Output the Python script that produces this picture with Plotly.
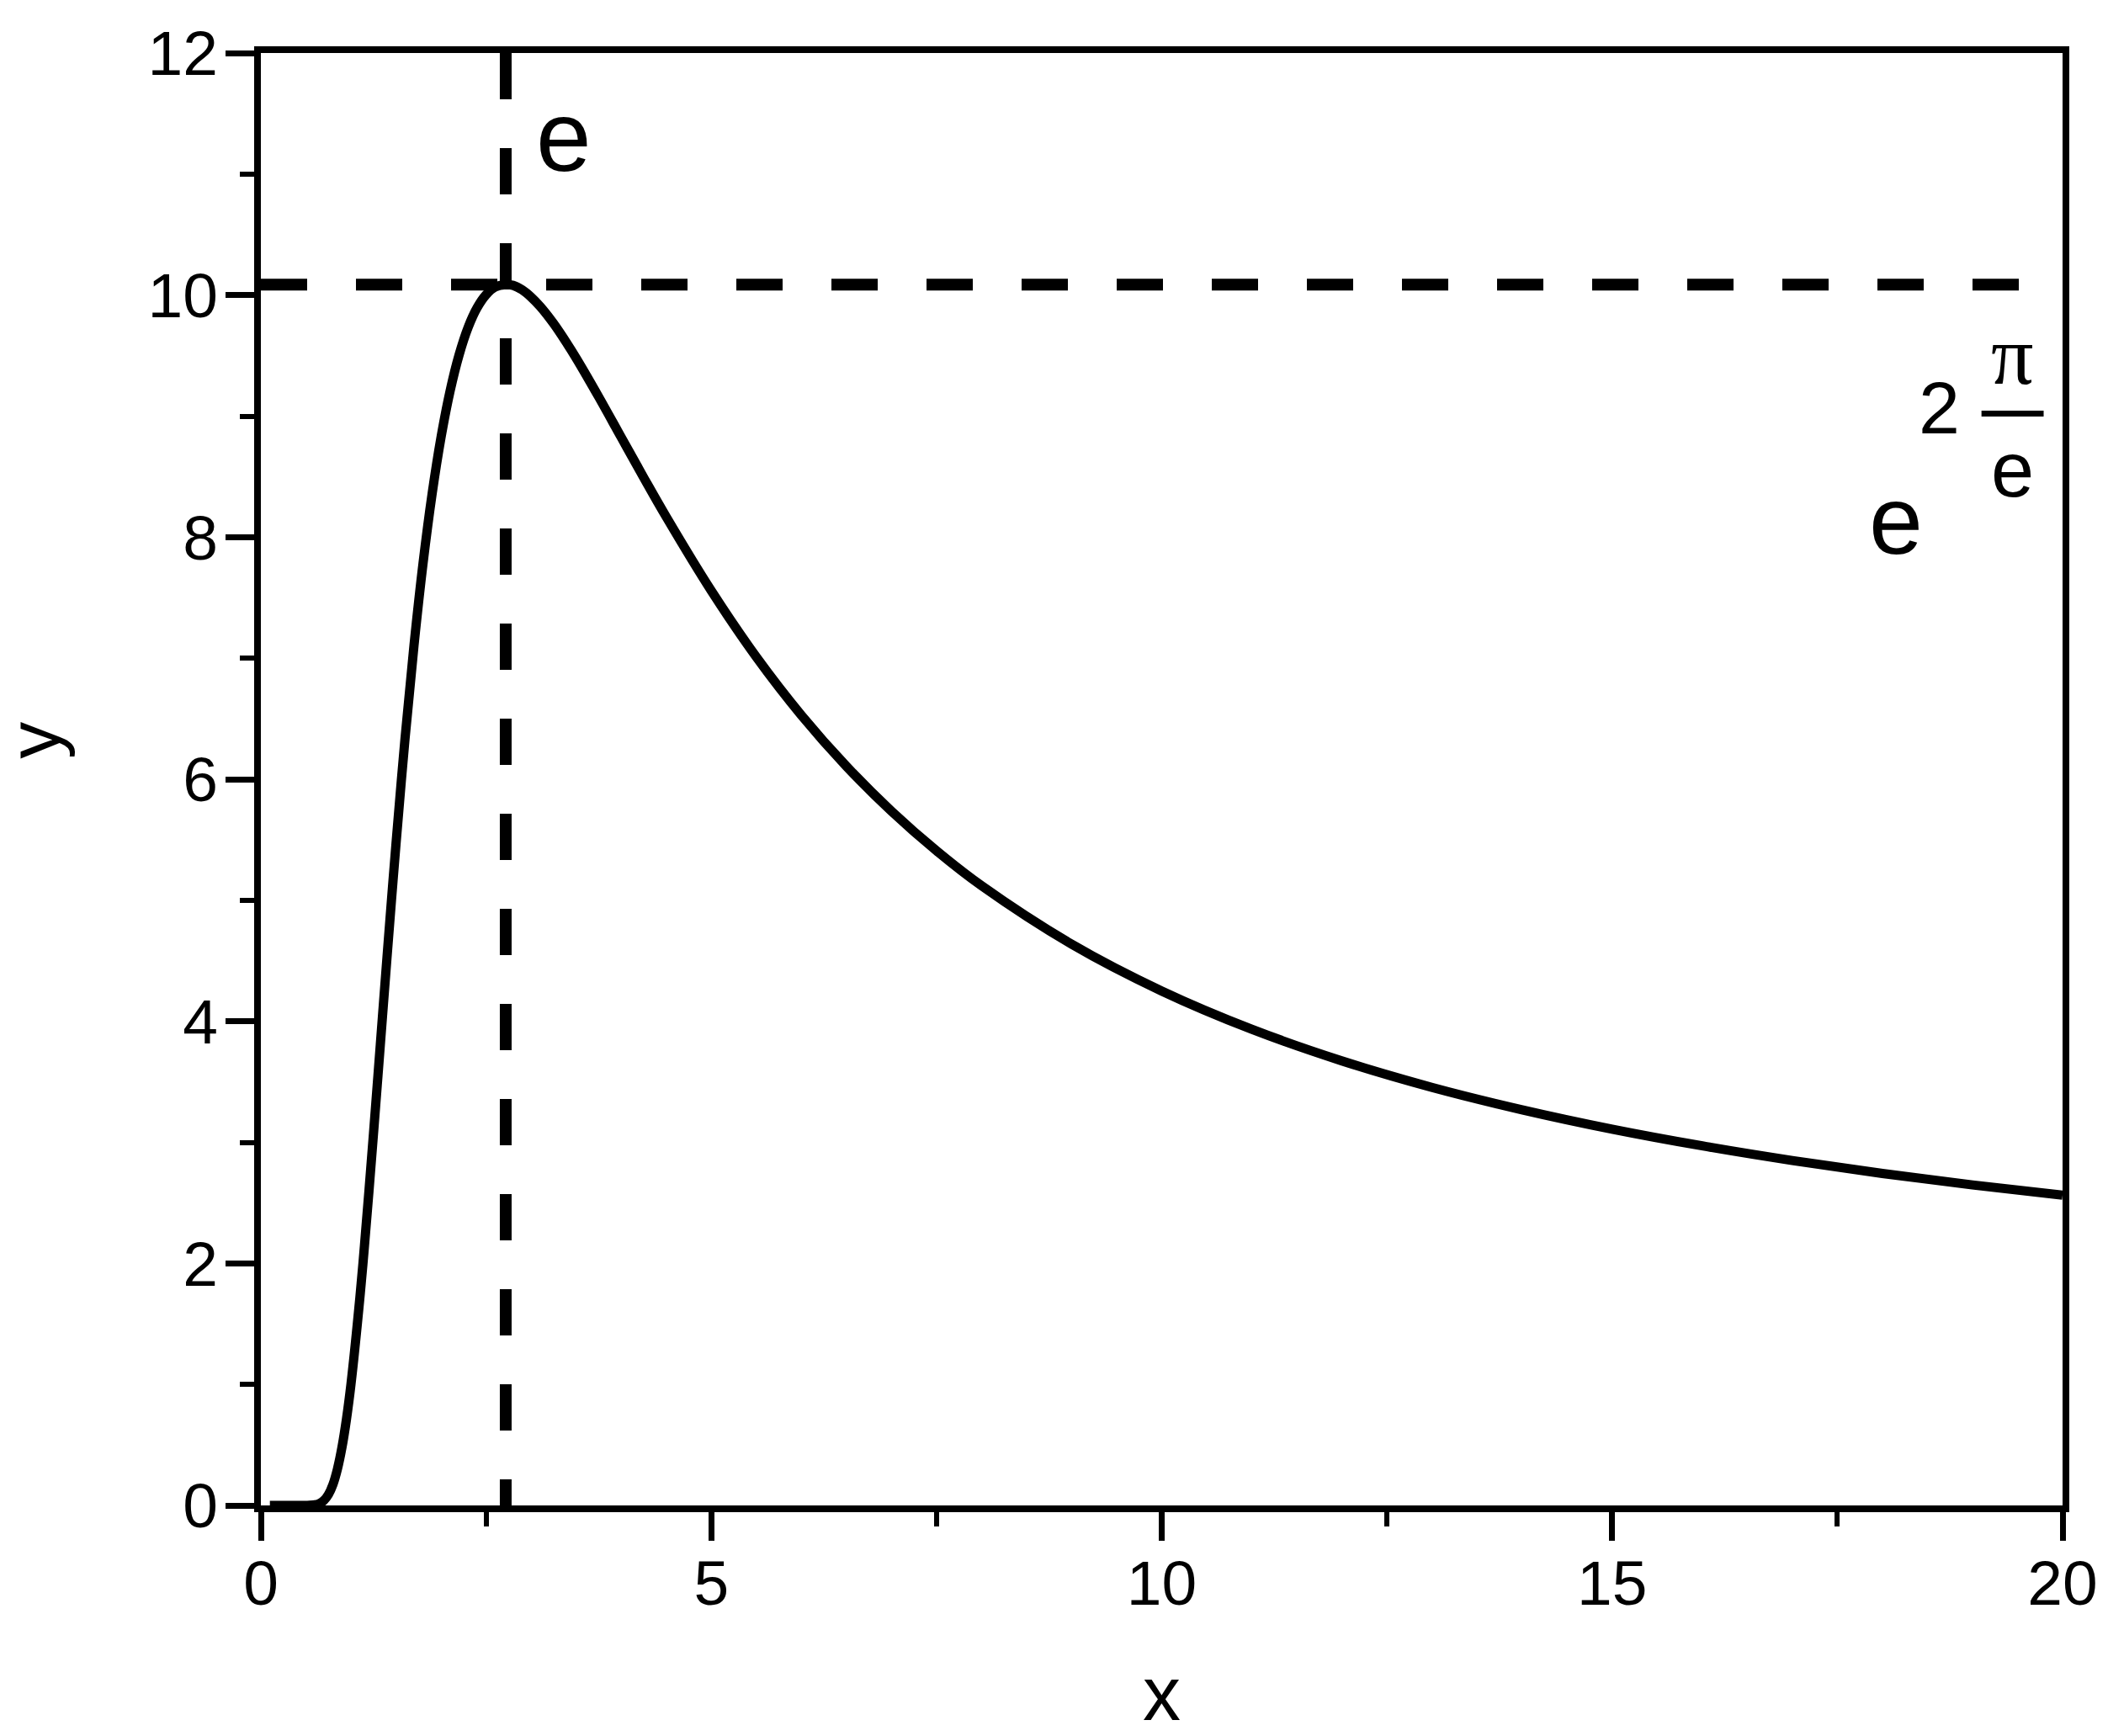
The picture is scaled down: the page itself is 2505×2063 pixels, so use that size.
import plotly.graph_objects as go

# curve values
x_vals = [0.1, 0.2, 0.4, 0.5, 0.6, 0.65, 0.7, 0.75, 0.8, 0.85, 0.9, 0.95, 1.0,
          1.1, 1.15, 1.2, 1.25, 1.3, 1.35, 1.4, 1.45, 1.5, 1.6, 1.7, 1.8, 1.9,
          2.0, 2.1, 2.2, 2.3, 2.4, 2.5, 2.6, 2.718, 2.8, 2.9, 3.0, 3.1, 3.25,
          3.4, 3.5, 3.75, 4.0, 4.25, 4.5, 5.0, 5.5, 6.0, 6.5, 7.0, 7.5, 8.0,
          9.0, 10.0, 11.0, 12.0, 13.0, 14.0, 15.0, 16.0, 17.0, 18.0, 19.0, 20.0]
y_vals = [0.0, 0.0, 0.0, 0.0002, 0.005, 0.016, 0.041, 0.090, 0.173, 0.301,
          0.479, 0.712, 1.0, 1.724, 2.146, 2.598, 3.070, 3.554, 4.042, 4.527,
          5.003, 5.465, 6.333, 7.107, 7.782, 8.353, 8.825, 9.206, 9.505, 9.732,
          9.895, 10.003, 10.066, 10.086, 10.080, 10.043, 9.983, 9.906, 9.764,
          9.598, 9.479, 9.159, 8.825, 8.492, 8.167, 7.557, 7.010, 6.529, 6.107,
          5.736, 5.409, 5.120, 4.637, 4.250, 3.934, 3.673, 3.454, 3.269, 3.109,
          2.971, 2.850, 2.743, 2.648, 2.563]

peak_x = 2.718
peak_y = 10.086

x_ticks = [0, 5, 10, 15, 20]
y_ticks = [0, 2, 4, 6, 8, 10, 12]

FONT = "Arial, Liberation Sans, sans-serif"
DASH = "55px,58px"

fig = go.Figure()

fig.add_trace(go.Scatter(x=x_vals, y=y_vals, mode='lines',
                         line=dict(color='black', width=11, shape='spline'),
                         showlegend=False, hoverinfo='skip'))

# reference lines at the maximum
fig.add_trace(go.Scatter(x=[0, 20], y=[peak_y, peak_y], mode='lines',
                         line=dict(color='black', width=14, dash=DASH),
                         showlegend=False, hoverinfo='skip'))
fig.add_trace(go.Scatter(x=[peak_x, peak_x], y=[12, 0], mode='lines',
                         line=dict(color='black', width=14, dash=DASH),
                         showlegend=False, hoverinfo='skip'))

# labels
fig.add_annotation(x=3.36, y=11.31, text="e", showarrow=False,
                   font=dict(family=FONT, size=118, color='black'))
fig.add_annotation(x=18.15, y=8.14, text="e", showarrow=False,
                   font=dict(family=FONT, size=115, color='black'))
fig.add_annotation(x=18.63, y=9.07, text="2", showarrow=False,
                   font=dict(family=FONT, size=88, color='black'))
fig.add_annotation(x=19.44, y=9.5, text="π", showarrow=False,
                   font=dict(family="Liberation Serif, Times New Roman, serif", size=100, color='black'))
fig.add_annotation(x=19.44, y=8.56, text="e", showarrow=False,
                   font=dict(family=FONT, size=92, color='black'))
fig.add_shape(type='line', x0=19.10, x1=19.79, y0=9.02, y1=9.02,
              line=dict(color='black', width=7))

# y axis title placed by hand
fig.add_annotation(xref='paper', yref='paper', x=-0.126, y=0.527, text="y",
                   textangle=-90, showarrow=False, xanchor='center', yanchor='middle',
                   font=dict(family=FONT, size=88, color='black'))

# page body adds 8px offset, so the figure is shrunk by that much
fig.update_layout(
    width=2497, height=2055,
    paper_bgcolor='white', plot_bgcolor='white',
    margin=dict(l=302, r=49, t=55, b=274),
    font=dict(family=FONT, color='black'),
    xaxis=dict(range=[0, 20], tickvals=x_ticks, ticks='outside', ticklen=34, tickwidth=7,
               tickcolor='black', showline=True, linecolor='black', linewidth=8,
               mirror=True, showgrid=False, zeroline=False, ticklabelstandoff=-14,
               tickfont=dict(size=75), title=dict(text='x', font=dict(size=90), standoff=64),
               minor=dict(dtick=2.5, ticks='outside', ticklen=17, tickwidth=6, tickcolor='black')),
    yaxis=dict(range=[0, 12], tickvals=y_ticks, ticks='outside', ticklen=34, tickwidth=7,
               tickcolor='black', showline=True, linecolor='black', linewidth=8,
               mirror=True, showgrid=False, zeroline=False, ticklabelstandoff=-6,
               tickfont=dict(size=75),
               minor=dict(dtick=1, ticks='outside', ticklen=17, tickwidth=6, tickcolor='black')),
)

fig.write_html("out.html")
